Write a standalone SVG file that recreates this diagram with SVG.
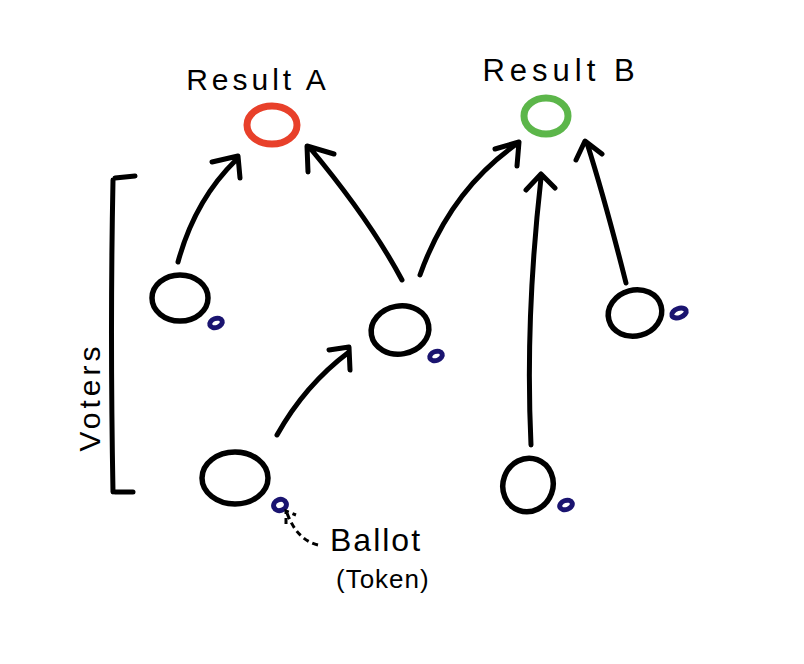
<svg xmlns="http://www.w3.org/2000/svg" width="804" height="664" viewBox="0 0 804 664">
<style>
.v{fill:none;stroke:#000;stroke-width:5.5}
.t{fill:none;stroke:#1a1470;stroke-width:5}
.c{fill:none;stroke:#000;stroke-width:5;stroke-linecap:round;stroke-linejoin:round}
.lbl{font-family:"Liberation Sans",Arial,sans-serif;fill:#000}
</style>
<rect width="804" height="664" fill="#fff"/>
<g id="resultA">
<text class="lbl" x="258" y="90" font-size="30" letter-spacing="4" text-anchor="middle">Result A</text>
<ellipse cx="272" cy="125" rx="25" ry="19" fill="none" stroke="#e8402a" stroke-width="7"/>
</g>
<g id="resultB">
<text class="lbl" x="561" y="81" font-size="31" letter-spacing="5" text-anchor="middle">Result B</text>
<ellipse cx="546" cy="116" rx="22" ry="18" fill="none" stroke="#5cb64a" stroke-width="7"/>
</g>
<g id="voter1"><ellipse class="v" cx="180" cy="298" rx="28" ry="23"/><ellipse class="t" cx="216" cy="323" rx="6.5" ry="4.5" transform="rotate(-20 216 323)"/></g>
<g id="voter2"><ellipse class="v" cx="400" cy="330" rx="29" ry="24" transform="rotate(-10 400 330)"/><ellipse class="t" cx="436" cy="356" rx="6.5" ry="4.5" transform="rotate(-20 436 356)"/></g>
<g id="voter3"><ellipse class="v" cx="235" cy="478" rx="33" ry="26"/><ellipse class="t" cx="280" cy="505" rx="6.5" ry="5.5" transform="rotate(-20 280 505)"/></g>
<g id="voter4"><ellipse class="v" cx="528" cy="485" rx="25" ry="27" transform="rotate(20 528 485)"/><ellipse class="t" cx="566" cy="505" rx="6.5" ry="4.5" transform="rotate(-20 566 505)"/></g>
<g id="voter5"><ellipse class="v" cx="635" cy="313" rx="27" ry="23" transform="rotate(-15 635 313)"/><ellipse class="t" cx="679" cy="313" rx="7.5" ry="4.5" transform="rotate(-20 679 313)"/></g>
<g id="voters-label">
<path class="c" d="M113 180 Q110 330 113 492 M115 178 L135 176 M115 492 L133 492" stroke-width="3"/>
<text class="lbl" font-size="30" letter-spacing="4" transform="translate(100 397) rotate(-90)" text-anchor="middle">Voters</text>
</g>
<g id="ballot-label">
<text class="lbl" x="330" y="551" font-size="32" letter-spacing="2">Ballot</text>
<text class="lbl" x="336" y="588" font-size="26" letter-spacing="1">(Token)</text>
</g>
<g id="connectors">
<path class="c" d="M178 262 Q195 200 236 160 M212 162 L238 156 L240 178"/>
<path class="c" d="M402 280 Q370 220 310 148 M308 172 L307 146 L334 154"/>
<path class="c" d="M420 275 Q450 190 518 143 M495 149 L519 142 L517 166"/>
<path class="c" d="M531 445 Q525 320 541 178 M526 190 L541 174 L555 188"/>
<path class="c" d="M626 283 Q605 200 587 143 M576 160 L585 141 L602 154"/>
<path class="c" d="M277 435 Q305 385 349 352 M329 350 L349 347 L350 370"/>
<path d="M318 545 Q297 540 287 513 M286 524 L286 511 L296 515" fill="none" stroke="#000" stroke-width="3" stroke-dasharray="6 4"/>
</g>
</svg>
